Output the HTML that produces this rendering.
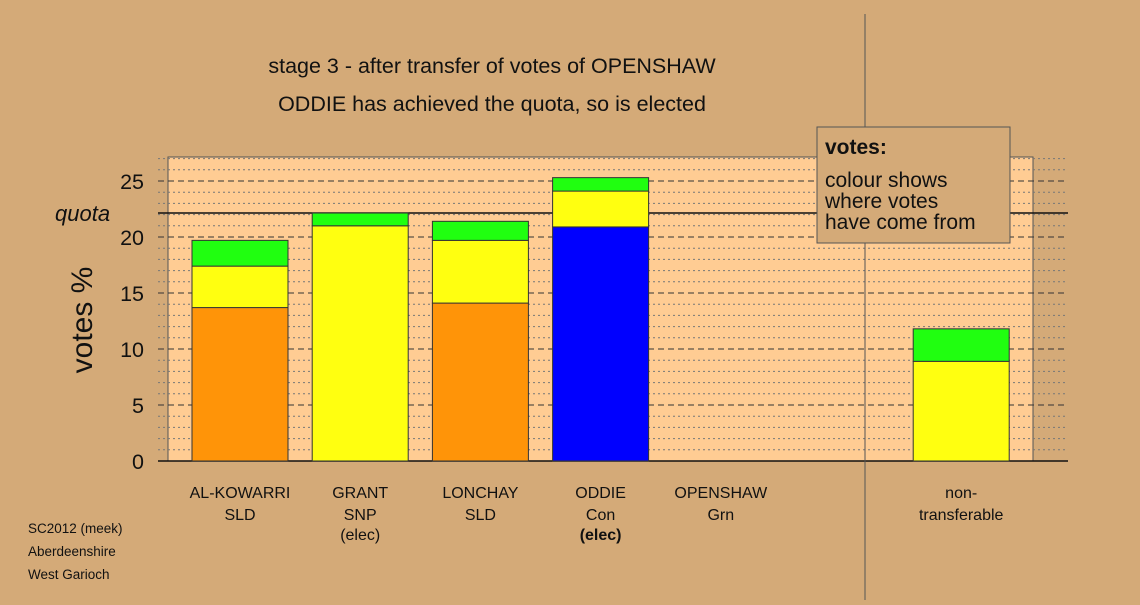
<!DOCTYPE html>
<html><head><meta charset="utf-8"><style>
body{margin:0;background:#d4aa78;}
svg text{font-family:"Liberation Sans",sans-serif;fill:#111;}
</style></head><body>
<svg width="1140" height="600" xmlns="http://www.w3.org/2000/svg">
<rect x="0" y="0" width="1140" height="600" fill="#d4aa78"/>
<g id="grid"></g>
<g id="bars"></g>
<g id="labels"></g>
<line x1="865" y1="14" x2="865" y2="600" stroke="#555" stroke-width="1"/>
<text x="492" y="73" font-size="21.5" text-anchor="middle">stage 3 - after transfer of votes of OPENSHAW</text>
<text x="492" y="111" font-size="21.5" text-anchor="middle">ODDIE has achieved the quota, so is elected</text>
<text x="92" y="320" font-size="30" text-anchor="middle" transform="rotate(-90 92 320)">votes %</text>
<g>
<rect x="817" y="127" width="193" height="116" fill="#d4aa78" stroke="#555"/>
<text x="825" y="154" font-size="21" font-weight="bold">votes:</text>
<text x="825" y="187" font-size="21">colour shows</text>
<text x="825" y="208" font-size="21">where votes</text>
<text x="825" y="229" font-size="21">have come from</text>
</g>
<text x="28" y="533" font-size="13.5">SC2012 (meek)</text>
<text x="28" y="556" font-size="13.5">Aberdeenshire</text>
<text x="28" y="579" font-size="13.5">West Garioch</text>
</svg>
<script>
const categories=["AL-KOWARRI","GRANT","LONCHAY","ODDIE","OPENSHAW","","non-"];
const subLabels=["SLD","SNP","SLD","Con","Grn","","transferable"];
const thirdLabels=["","(elec)","","(elec)","","",""];
const seriesOrange=[13.7,0,14.1,0,0,0,0];
const seriesBlue=[0,0,0,20.9,0,0,0];
const seriesYellow=[3.7,21.0,5.6,3.2,0,0,8.9];
const seriesGreen=[2.3,1.14,1.7,1.2,0,0,2.9];
const yTicks=[0,5,10,15,20,25];
const quota=22.14;
const NS="http://www.w3.org/2000/svg";
const y0=461,pxu=11.2;
function y(v){return y0-v*pxu;}
function xc(i){return 240+i*120.2;}
function mk(t,a,p){const e=document.createElementNS(NS,t);for(const k in a)e.setAttribute(k,a[k]);p.appendChild(e);return e;}
const grid=document.getElementById('grid'),bars=document.getElementById('bars'),lab=document.getElementById('labels');
const box=mk('rect',{x:168,y:157,width:865,height:304,fill:'#ffcc93',stroke:'#555'},grid);


for(let v=1;v<=27;v++){
  const major=v%5===0;
  const l=mk('line',{x1:158,x2:1068,y1:y(v),y2:y(v),stroke:major?'#333':'#777','stroke-width':1,'stroke-dasharray':major?'6,4':'2,3'},grid);
  
  
}
yTicks.forEach(t=>{
  const e=mk('text',{x:144,y:y(t)+8,'font-size':21.5,'text-anchor':'end'},lab);e.textContent=t;
  
  
});
const q=mk('line',{x1:158,x2:1068,y1:y(quota),y2:y(quota),stroke:'#111','stroke-width':1.5},grid);


const qt=mk('text',{x:55,y:y(quota)+8,'font-size':22,'font-style':'italic'},lab);qt.textContent='quota';


const series=[[seriesOrange,'#ff9408'],[seriesBlue,'#0000ff'],[seriesYellow,'#ffff10'],[seriesGreen,'#20ff10']];
categories.forEach((c,i)=>{
  let base=0;
  series.forEach(([arr,col])=>{
    const v=arr[i];if(!v)return;
    const r=mk('rect',{x:xc(i)-48,y:y(base+v),width:96,height:v*pxu,fill:col,stroke:'#333','stroke-width':1},bars);
    
    
    base+=v;
  });
  [[c,498,false],[subLabels[i],520,false],[thirdLabels[i],540,i===3]].forEach(([t,yy,b])=>{
    if(!t)return;
    const e=mk('text',{x:xc(i),y:yy,'font-size':16,'text-anchor':'middle','font-weight':b?'bold':'normal'},lab);e.textContent=t;
    
    
  });
});
const ax=mk('line',{x1:158,x2:1068,y1:y0,y2:y0,stroke:'#111','stroke-width':1.5},grid);


</script>
</body></html>
